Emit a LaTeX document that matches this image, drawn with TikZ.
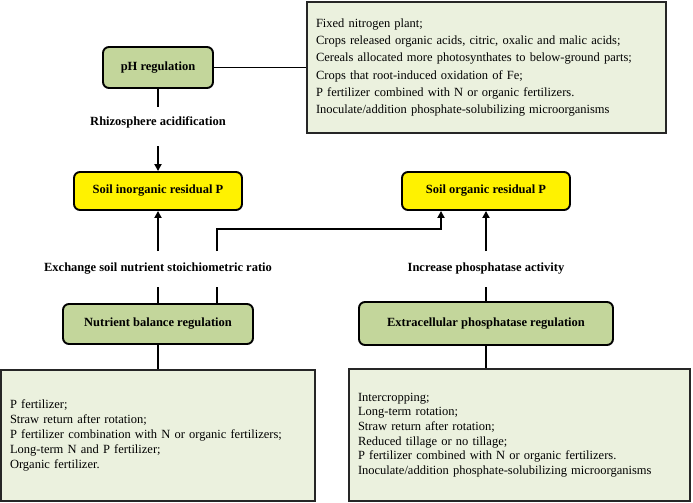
\documentclass[tikz,border=0pt]{standalone}
\usepackage{fontspec}
\setmainfont{Liberation Serif}
\usetikzlibrary{arrows.meta}
\definecolor{boxgreen}{HTML}{C3D69B}
\definecolor{paleg}{HTML}{EBF1DE}
\begin{document}
\begin{tikzpicture}[x=1pt,y=-1pt,
 rbox/.style={draw=black, line width=1.9pt, rounded corners=6pt, font=\bfseries\fontsize{12.5}{14}\selectfont, inner sep=0pt},
 gbox/.style={rbox, fill=boxgreen},
 ybox/.style={rbox, fill=yellow},
 tbox/.style={draw=black!85, line width=1.5pt, fill=paleg, inner xsep=9pt, inner ysep=0pt, align=left},
 lab/.style={font=\bfseries\fontsize{12.5}{14}\selectfont, inner sep=0pt},
 conn/.style={line width=1.9pt},
 arr/.style={conn, -{Triangle[length=7pt,width=7pt]}}]
\useasboundingbox (0,0) rectangle (693,503);
% boxes
\node[gbox, minimum width=110pt, minimum height=41pt] (ph) at (158,67.5) {pH regulation};
\node[tbox, minimum width=359pt, minimum height=131pt, text width=341pt, font=\fontsize{12.5}{17.2}\selectfont] (fix) at (486.5,67.5) {Fixed nitrogen plant;\\
Crops released organic acids, citric, oxalic and malic acids;\\
Cereals allocated more photosynthates to below-ground parts;\\
Crops that root-induced oxidation of Fe;\\
P fertilizer combined with N or organic fertilizers.\\
Inoculate/addition phosphate-solubilizing microorganisms};
\node[ybox, minimum width=168pt, minimum height=38pt] (inorg) at (158,191) {Soil inorganic residual P};
\node[ybox, minimum width=168pt, minimum height=38pt] (org) at (486,191) {Soil organic residual P};
\node[gbox, minimum width=190pt, minimum height=40pt] (nut) at (158,324) {Nutrient balance regulation};
\node[gbox, minimum width=254pt, minimum height=43pt] (ext) at (486,323.5) {Extracellular phosphatase regulation};
\node[tbox, minimum width=314pt, minimum height=131pt, text width=296pt, font=\fontsize{12.5}{15.2}\selectfont] (bl) at (158,435.5) {P fertilizer;\\
Straw return after rotation;\\
P fertilizer combination with N or organic fertilizers;\\
Long-term N and P fertilizer;\\
Organic fertilizer.};
\node[tbox, minimum width=341pt, minimum height=132pt, text width=323pt, font=\fontsize{12.5}{14.6}\selectfont] (br) at (519.5,435) {Intercropping;\\
Long-term rotation;\\
Straw return after rotation;\\
Reduced tillage or no tillage;\\
P fertilizer combined with N or organic fertilizers.\\
Inoculate/addition phosphate-solubilizing microorganisms};
% labels
\node[lab] (rhiz) at (158,122) {Rhizosphere acidification};
\node[lab] (exch) at (158,269) {Exchange soil nutrient stoichiometric ratio};
\node[lab] (incr) at (486,269) {Increase phosphatase activity};
% connectors
\draw[conn] (ph.east) -- (fix.west);
\draw[conn] (ph.south) -- ([yshift=15pt]rhiz.center);
\draw[arr] ([yshift=-24pt]rhiz.center) -- (inorg.north);
\draw[arr] ([yshift=18pt]exch.center) -- (inorg.south);
\draw[conn] (nut.north) -- ([yshift=-18pt]exch.center);
\coordinate (b1) at (217,287);
\coordinate (b2) at (217,251);
\coordinate (bend) at (217,229);
\draw[conn] (b1) -- (nut.north -| b1);
\draw[arr] (b2) -- (bend) -| ([xshift=-45pt]org.south);
\draw[arr] ([yshift=18pt]incr.center) -- (org.south);
\draw[conn] (ext.north) -- ([yshift=-18pt]incr.center);
\draw[conn] (nut.south) -- (bl.north);
\draw[conn] (ext.south) -- (ext.south |- br.north);
\end{tikzpicture}
\end{document}
